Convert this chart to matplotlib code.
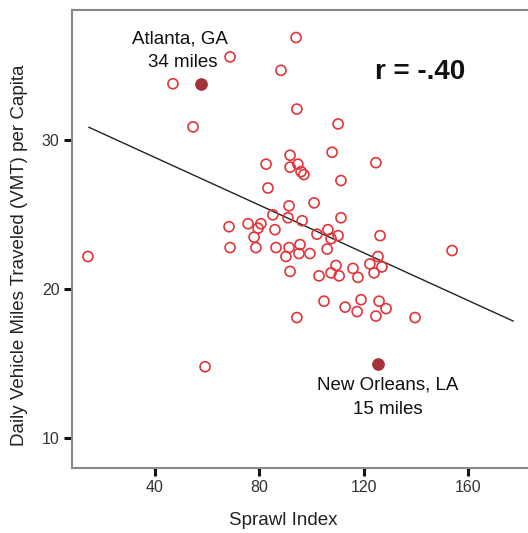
import matplotlib
matplotlib.use("Agg")
import matplotlib.pyplot as plt
import numpy as np

plt.rcParams['font.family'] = ['Liberation Sans', 'DejaVu Sans']

# Sprawl index (x) and daily VMT per capita (y) for metro areas
sprawl = [14.3, 46.9, 54.6, 68.8, 68.4, 68.8, 75.7, 80.6, 79.5, 78.0,
          78.7, 82.6, 83.3, 85.2, 86.0, 86.4, 88.3, 90.2, 91.0, 91.4,
          91.4, 91.8, 91.8, 91.8, 94.1, 94.4, 94.8, 95.6, 95.2, 96.4,
          96.0, 97.1, 94.4, 99.4, 101.0, 102.1, 102.9, 104.8, 106.3, 107.5,
          110.2, 106.0, 107.9, 107.5, 109.4, 110.2, 110.6, 111.3, 111.3, 112.9,
          115.9, 117.5, 117.8, 119.0, 122.4, 124.0, 124.7, 124.7, 125.5, 125.9,
          126.3, 127.0, 128.6, 139.7, 153.9, 59.2]
vmt = [22.2, 33.8, 30.9, 35.6, 24.2, 22.8, 24.4, 24.4, 24.1, 23.5,
       22.8, 28.4, 26.8, 25.0, 24.0, 22.8, 34.7, 22.2, 24.8, 25.6,
       22.8, 29.0, 28.2, 21.2, 36.9, 32.1, 28.4, 23.0, 22.4, 24.6,
       27.9, 27.7, 18.1, 22.4, 25.8, 23.7, 20.9, 19.2, 24.0, 23.4,
       23.6, 22.7, 29.2, 21.1, 21.6, 31.1, 20.9, 27.3, 24.8, 18.8,
       21.4, 18.5, 20.8, 19.3, 21.7, 21.1, 28.5, 18.2, 22.2, 19.2,
       23.6, 21.5, 18.7, 18.1, 22.6, 14.8]

highlight_x = [57.6, 125.5]
highlight_y = [33.75, 15.0]
highlight_names = ["Atlanta, GA", "New Orleans, LA"]
highlight_vmt_labels = ["34 miles", "15 miles"]

fit_slope = -0.0800
fit_intercept = 32.05
fit_x_range = [14.7, 177.3]
r_label = "r = -.40"

x_ticks = [40, 80, 120, 160]
y_ticks = [10, 20, 30]

fig = plt.figure(figsize=(5.28, 5.33), dpi=100)
ax = fig.add_axes([72/528, 1 - 468/533, 456/528, 458/533])

ax.scatter(sprawl, vmt, s=52, facecolors='none', edgecolors='#e3343a',
           linewidths=1.2, zorder=3)
ax.scatter(highlight_x, highlight_y, s=66, color='#a3323a', zorder=4)

fx = np.array(fit_x_range)
ax.plot(fx, fit_intercept + fit_slope * fx, color='#222222', lw=1.0, zorder=2)

fs = 13.5
ax.text(49.6, 36.8, highlight_names[0], ha='center', va='center', fontsize=fs, color='#111111')
ax.text(50.7, 35.2, highlight_vmt_labels[0], ha='center', va='center', fontsize=fs, color='#111111')
ax.text(129.3, 13.6, highlight_names[1], ha='center', va='center', fontsize=fs, color='#111111')
ax.text(129.3, 11.9, highlight_vmt_labels[1], ha='center', va='center', fontsize=fs, color='#111111')
ax.text(141.6, 34.6, r_label, ha='center', va='center', fontsize=20, fontweight='bold', color='#111111')

ax.set_xlim(8.2, 183.0)
ax.set_ylim(8.0, 38.75)
ax.set_xticks(x_ticks)
ax.set_yticks(y_ticks)
ax.tick_params(axis='both', direction='out', length=6, width=2.2, color='#111111',
               labelsize=11.5, labelcolor='#333333', pad=3)

ax.spines['right'].set_visible(False)
for side in ['left', 'top', 'bottom']:
    ax.spines[side].set_color('#888888')
    ax.spines[side].set_linewidth(1.5)

ax.set_xlabel("Sprawl Index", fontsize=13.5, color='#222222')
ax.set_ylabel("Daily Vehicle Miles Traveled (VMT) per Capita", fontsize=13.5, color='#222222')
ax.xaxis.set_label_coords((283 - 72) / 456, (468 - 512) / 458)
ax.yaxis.set_label_coords((28 - 72) / 456, (468 - 255) / 458)

fig.savefig("out.png", dpi=100)
